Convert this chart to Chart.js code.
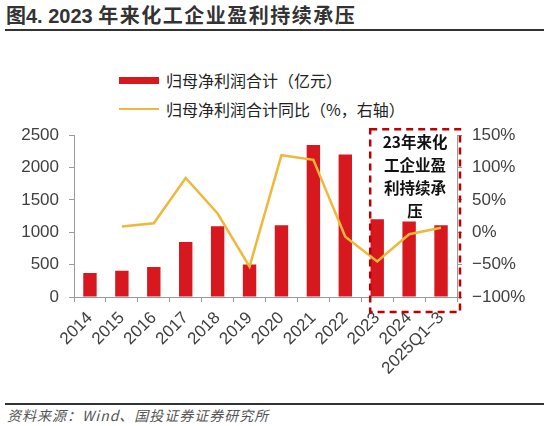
<!DOCTYPE html>
<html>
<head>
<meta charset="utf-8">
<script src="https://cdn.jsdelivr.net/npm/chart.js@4"></script>
<style>
  body { margin: 0; width: 544px; height: 426px; background: #fff; position: relative; overflow: hidden;
         font-family: "Liberation Sans", "Noto Sans CJK SC", sans-serif; }
  #title { position: absolute; left: 6px; top: 2px; font-size: 20px; line-height: 26px; font-weight: bold; color: #333; white-space: nowrap; }
  #title .cn { font-family: "Noto Sans CJK SC", sans-serif; letter-spacing: 1.5px; }
  #topline { position: absolute; left: 5px; right: 0; top: 29px; height: 2px; background: #333; }
  .leg { position: absolute; left: 119px; font-size: 16px; color: #222; font-family: "Noto Sans CJK SC", sans-serif; }
  .leg span.sw { position: absolute; left: 0; }
  .leg span.tx { position: absolute; left: 47px; white-space: nowrap; top: -12px; }
  #bottomline { position: absolute; left: 5px; right: 0; top: 403px; height: 2px; background: #333; }
  #source { position: absolute; left: 7px; top: 405px; font-size: 14px; letter-spacing: 1px; font-style: italic; color: #555;
            font-family: "Noto Sans CJK SC", sans-serif; white-space: nowrap; }
  #wrap { position: absolute; left: 0; top: 115px; width: 544px; height: 280px; }
</style>
</head>
<body>
<div id="title">图4. 2023 <span class="cn">年来化工企业盈利持续承压</span></div>
<div id="topline"></div>
<div class="leg" style="top:80px"><span class="sw" style="top:-3px;width:40px;height:7px;background:#d7191f"></span><span class="tx">归母净利润合计（亿元）</span></div>
<div class="leg" style="top:109px"><span class="sw" style="top:-1px;width:40px;height:2px;background:#f0b83a"></span><span class="tx">归母净利润合计同比（%，右轴）</span></div>
<div id="wrap"><canvas id="c"></canvas></div>
<div id="bottomline"></div>
<div id="source">资料来源：Wind、国投证券证券研究所</div>
<script>
const categories = ['2014', '2015', '2016', '2017', '2018', '2019', '2020', '2021', '2022', '2023', '2024', '2025Q1–3'];
const netProfit = [370, 404, 464, 849, 1093, 504, 1108, 2350, 2200, 1202, 1168, 1108];
const yoyPct = [null, 9, 14, 84, 29, -53, 119, 112, -7, -45, -3, 7];
const leftTicks = [0, 500, 1000, 1500, 2000, 2500];
const rightTicks = [-100, -50, 0, 50, 100, 150];
const noteLines = ['23年来化', '工企业盈', '利持续承', '压'];

const tickFont = { family: '"Liberation Sans", Arial, sans-serif', size: 17 };
const axisGray = '#9a9a9a';

// dashed box + note over the last three categories
const noteBox = {
  id: 'noteBox',
  afterDraw(chart) {
    const { ctx, chartArea, scales } = chart;
    const x = scales.x;
    const catW = x.getPixelForValue(1) - x.getPixelForValue(0);
    const left = x.getPixelForValue(9) - 0.22 * catW;
    const right = chartArea.right + 3;
    const top = scales.y.getPixelForValue(2500) - 6;
    const bottom = chartArea.bottom + 15;
    ctx.save();
    ctx.strokeStyle = '#c00000';
    ctx.lineWidth = 2.5;
    ctx.setLineDash([7, 5]);
    ctx.strokeRect(left, top, right - left, bottom - top);
    ctx.setLineDash([]);
    ctx.fillStyle = '#111';
    ctx.font = 'bold 15.5px "Noto Sans CJK SC", sans-serif';
    ctx.textAlign = 'center';
    ctx.textBaseline = 'middle';
    noteLines.forEach((t, i) => ctx.fillText(t, (left + right) / 2, top + 13 + i * 23));
    ctx.restore();
  }
};

new Chart(document.getElementById('c'), {
  type: 'bar',
  data: {
    labels: categories,
    datasets: [{
      type: 'line',
      label: '归母净利润合计同比（%，右轴）',
      data: yoyPct,
      yAxisID: 'y1',
      borderColor: '#f0b83a',
      borderWidth: 2.5,
      pointRadius: 0,
      tension: 0,
      order: 0
    }, {
      label: '归母净利润合计（亿元）',
      data: netProfit,
      yAxisID: 'y',
      backgroundColor: '#d7191f',
      barPercentage: 0.42,
      categoryPercentage: 1,
      order: 1
    }]
  },
  options: {
    responsive: true,
    maintainAspectRatio: false,
    animation: false,
    layout: { padding: { top: 15, left: 0, right: 0, bottom: 0 } },
    plugins: {
      legend: { display: false },
      tooltip: { enabled: false }
    },
    scales: {
      x: {
        grid: { offset: true, drawOnChartArea: false, drawTicks: true, tickLength: 5, color: axisGray },
        border: { color: axisGray },
        ticks: { color: '#404040', font: tickFont, minRotation: 45, maxRotation: 45, padding: 6, autoSkip: false },
        afterFit(s) { s.height = 98; }
      },
      y: {
        position: 'left',
        min: 0, max: 2500,
        afterBuildTicks(s) { s.ticks = leftTicks.map(v => ({ value: v })); },
        grid: { drawOnChartArea: false, tickLength: 5, color: axisGray },
        border: { color: axisGray },
        ticks: { color: '#404040', font: tickFont, padding: 10, callback: v => String(v) },
        afterFit(s) { s.width = 74; }
      },
      y1: {
        position: 'right',
        min: -100, max: 150,
        afterBuildTicks(s) { s.ticks = rightTicks.map(v => ({ value: v })); },
        grid: { drawOnChartArea: false, tickLength: 5, color: axisGray },
        border: { color: axisGray },
        ticks: { color: '#404040', font: tickFont, padding: 10,
                 callback: v => (v < 0 ? '−' + Math.abs(v) : v) + '%' },
        afterFit(s) { s.width = 87; }
      }
    }
  },
  plugins: [noteBox]
});
</script>
</body>
</html>
